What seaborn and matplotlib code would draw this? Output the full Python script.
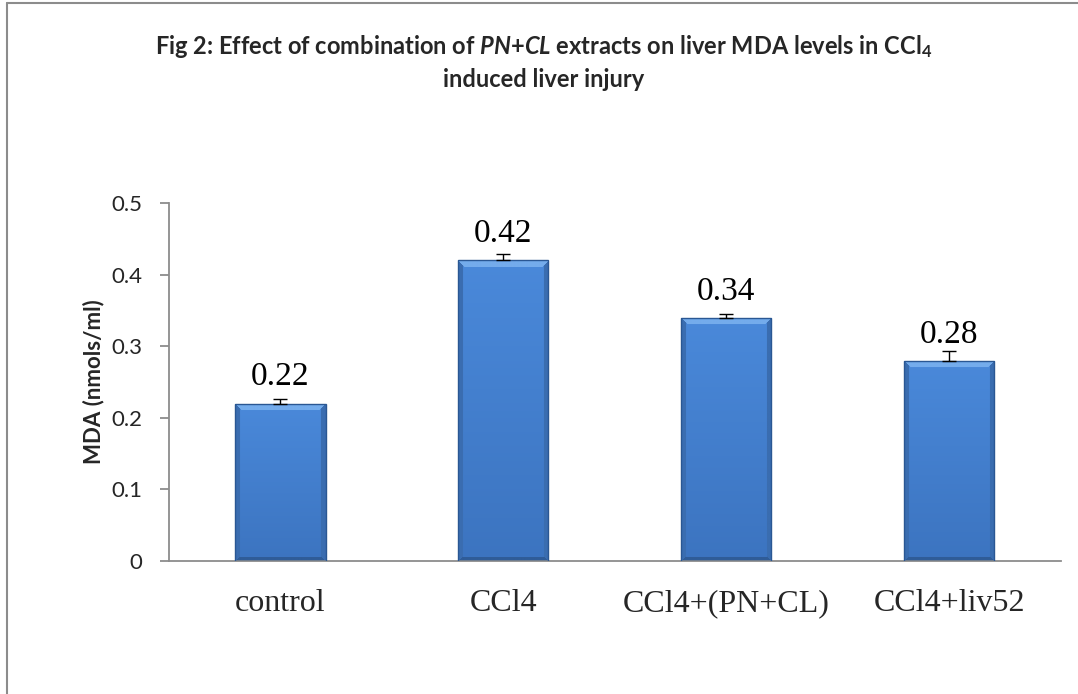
import numpy as np
import pandas as pd
import matplotlib
matplotlib.use("Agg")
import matplotlib.pyplot as plt
import seaborn as sns
from matplotlib.lines import Line2D
from matplotlib.colors import to_rgb

# data
groups = ["control", "CCl4", "CCl4+(PN+CL)", "CCl4+liv52"]
mda = [0.22, 0.42, 0.34, 0.28]
sem = [0.007, 0.009, 0.005, 0.013]
value_labels = ["0.22", "0.42", "0.34", "0.28"]

df = pd.DataFrame({"group": groups, "mda": mda})

sns.set_style("white")
plt.rcParams["font.family"] = ["Lato", "DejaVu Sans"]
plt.rcParams["mathtext.fontset"] = "custom"
plt.rcParams["mathtext.rm"] = "Lato:bold"
plt.rcParams["mathtext.bf"] = "Lato:bold"
plt.rcParams["mathtext.it"] = "Lato:bold:italic"

fig = plt.figure(figsize=(10.78, 6.94), dpi=100)
ax = fig.add_axes([0.1568, 0.1916, 0.8272, 0.5158])

sns.barplot(data=df, x="group", y="mda", color="#3F7ECF", width=0.404,
            edgecolor="#2A5793", linewidth=1.0, ax=ax, zorder=2)

ax.set_xlim(-0.5, len(groups) - 0.5)
ax.set_ylim(0, 0.5)

# excel-like bevel shading on each bar (built in pixel units of the bar)
light = np.array(to_rgb("#74ACEC"))
side = np.array(to_rgb("#3A6DB0"))
bottom = np.array(to_rgb("#2F5C98"))
c_top = np.array(to_rgb("#4A89DA"))
c_bot = np.array(to_rgb("#3C74C0"))
fig.canvas.draw()
for p in ax.patches:
    x0, y0 = p.get_x(), p.get_y()
    w, h = p.get_width(), p.get_height()
    (px0, py0), (px1, py1) = ax.transData.transform([(x0, y0), (x0 + w, y0 + h)])
    nx, ny = max(int(round(px1 - px0)), 2), max(int(round(py1 - py0)), 2)
    u = np.arange(nx)[None, :]
    v = np.arange(ny)[:, None]
    ds = np.minimum(u, nx - 1 - u) + 0 * v
    dt = (ny - 1 - v) + 0 * u
    db = v + 0 * u
    t = (v / (ny - 1)) + 0 * u
    img = c_bot[None, None, :] * (1 - t[..., None]) + c_top[None, None, :] * t[..., None]
    bev = 7
    is_top = (dt < bev) & (dt <= ds)
    is_side = (ds < 5) & ~is_top
    is_bot = (db < 4) & (db < ds) & ~is_top
    img[is_side] = side
    img[is_bot] = bottom
    img[is_top] = light
    im = ax.imshow(img, extent=(x0, x0 + w, y0, y0 + h), origin="lower",
                   aspect="auto", zorder=2.5, interpolation="bilinear")
    im.set_clip_path(p)
    p.set_zorder(3)
    p.set_facecolor("none")

xs = np.arange(len(groups))
ax.errorbar(xs, mda, yerr=[np.zeros(len(sem)), sem], fmt="none",
            ecolor="black", elinewidth=1.0, capsize=5, capthick=1.0, zorder=4)

for xi, yi, lab in zip(xs, mda, value_labels):
    ax.annotate(lab, (xi, yi), xytext=(0, 13), textcoords="offset points",
                ha="center", va="baseline", fontsize=24,
                family="Liberation Serif", color="black")

ax.set_xlim(-0.5, len(groups) - 0.5)
ax.set_ylim(0, 0.5)
ax.set_yticks([0, 0.1, 0.2, 0.3, 0.4, 0.5])
ax.set_yticklabels(["0", "0.1", "0.2", "0.3", "0.4", "0.5"], fontsize=16)
ax.set_xticks(xs)
ax.set_xticklabels(groups, fontsize=23, family="Liberation Serif")
ax.set_xticks(np.arange(-0.5, len(groups)), minor=True)
ax.tick_params(axis="x", which="major", length=0, pad=20)
ax.tick_params(axis="x", which="minor", length=6.5, width=1.3,
               color="#8C8C8C", direction="out")
ax.tick_params(axis="y", length=6.5, width=1.3, color="#8C8C8C",
               direction="out", pad=13, left=True)
ax.set_xlabel("")
ax.set_ylabel("MDA (nmols/ml)", fontsize=16, fontweight="bold")
ax.yaxis.set_label_coords(-0.073, 0.5)

for s in ["top", "right"]:
    ax.spines[s].set_visible(False)
for s in ["left", "bottom"]:
    ax.spines[s].set_color("#8C8C8C")
    ax.spines[s].set_linewidth(1.3)

fig.text(0.5045, 0.933,
         r"Fig 2: Effect of combination of $\mathit{PN{+}CL}$ extracts on liver MDA levels in CCl$_4$",
         ha="center", va="center", fontsize=17, fontweight="bold")
fig.text(0.5045, 0.886, "induced liver injury", ha="center", va="center",
         fontsize=17, fontweight="bold")

# chart area border
fig.add_artist(Line2D([0.0065, 0.0065], [0, 0.995], transform=fig.transFigure,
                      color="#8C8C8C", linewidth=1.5))
fig.add_artist(Line2D([0.0065, 1.0], [0.995, 0.995], transform=fig.transFigure,
                      color="#8C8C8C", linewidth=1.5))

fig.savefig("out.png", dpi=100, facecolor="white")
